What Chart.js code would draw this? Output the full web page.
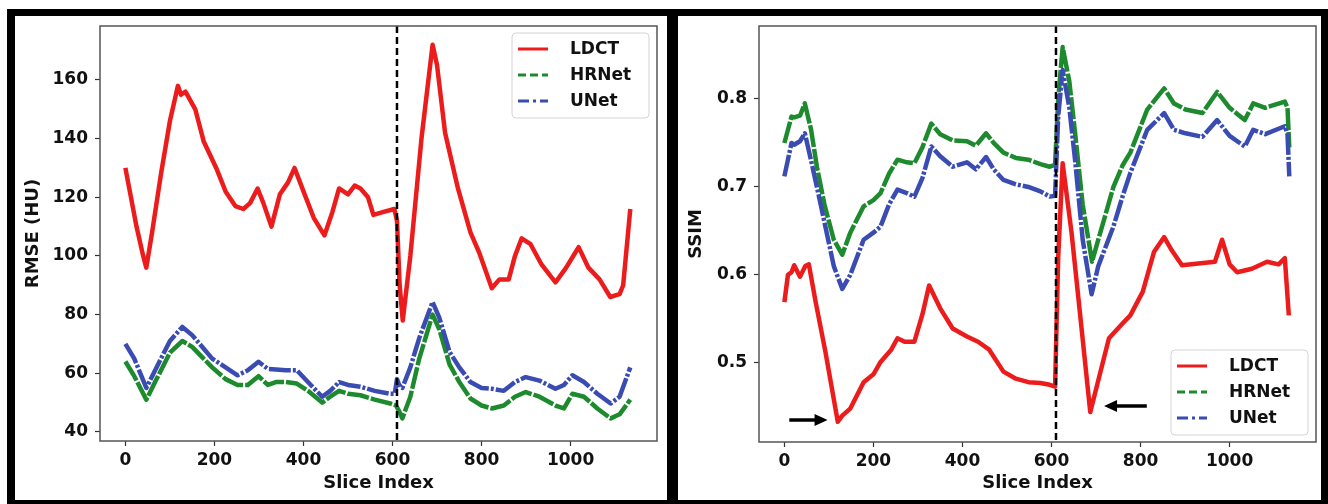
<!DOCTYPE html>
<html>
<head>
<meta charset="utf-8">
<script src="https://cdn.jsdelivr.net/npm/chart.js@4.4.0/dist/chart.umd.min.js"></script>
<style>
  body { margin: 0; background: #fff; width: 1328px; height: 504px; overflow: hidden; position: relative; }
  #frame { position: absolute; left: 7px; top: 9px; width: 1321px; height: 495px; background: #000; }
  .panel { position: absolute; top: 16px; height: 484px; background: #fff; }
  #leftPanel { left: 15px; width: 652px; }
  #rightPanel { left: 678px; width: 643px; }
</style>
</head>
<body>
<div id="frame"></div>
<div class="panel" id="leftPanel"><canvas id="rmseChart" width="652" height="484"></canvas></div>
<div class="panel" id="rightPanel"><canvas id="ssimChart" width="643" height="484"></canvas></div>
<script>
const seriesNames = ["LDCT", "HRNet", "UNet"];
const seriesColors = ["#ec1c1c", "#1e8a2e", "#3a4cb2"];
const xTicks = [0, 200, 400, 600, 800, 1000];
const rmseTicks = [40, 60, 80, 100, 120, 140, 160];
const ssimTicks = [0.5, 0.6, 0.7, 0.8];
const splitSlice = 610;

// RMSE (left panel)
const rmseLdctX = [0, 10, 25, 40, 47, 60, 80, 100, 118, 125, 135, 157, 176, 204, 225, 247, 265, 280, 297, 310, 328, 347, 365, 380, 400, 423, 447, 465, 480, 500, 515, 528, 545, 557, 580, 604, 610, 616, 623, 640, 665, 690, 700, 718, 747, 775, 795, 823, 840, 861, 875, 890, 910, 935, 966, 990, 1010, 1018, 1040, 1065, 1089, 1110, 1118, 1134];
const rmseLdctY = [130, 122, 110, 100, 96, 108, 128, 146, 158, 155, 156, 150, 139, 130, 122, 117, 116, 118, 123, 118, 110, 121, 125, 130, 122, 113, 107, 115, 123, 121, 124, 123, 120, 114, 115, 116, 112, 90, 78, 100, 140, 172, 165, 142, 123, 108, 101, 89, 92, 92, 100, 106, 104, 97, 91, 96, 101, 103, 96, 92, 86, 87, 90, 116];
const rmseHrnetX = [0, 20, 47, 70, 100, 128, 150, 195, 225, 252, 275, 299, 320, 338, 360, 385, 410, 442, 460, 480, 500, 528, 560, 595, 608, 615, 622, 640, 660, 690, 705, 728, 750, 775, 800, 823, 850, 875, 899, 930, 966, 985, 1004, 1030, 1060, 1090, 1110, 1134];
const rmseHrnetY = [64, 59, 51, 58, 67, 71, 69, 62, 58, 56, 56, 59, 56, 57, 57, 56.5, 54, 50, 52, 54, 53, 52.5, 51, 49.7, 49, 47, 44.6, 52, 65, 80, 75, 63, 57, 51.4, 49, 48, 49, 52, 53.6, 52, 49, 48, 53, 52, 48, 44.6, 46, 51];
const rmseUnetX = [0, 20, 47, 70, 100, 128, 150, 195, 225, 252, 275, 299, 320, 338, 360, 385, 410, 442, 460, 480, 500, 528, 560, 595, 605, 610, 615, 622, 640, 660, 690, 705, 728, 750, 775, 800, 823, 850, 875, 899, 930, 966, 985, 1004, 1030, 1060, 1090, 1110, 1134];
const rmseUnetY = [70, 65, 55, 62, 71, 75.8, 73, 65, 62, 59.3, 61, 63.9, 61.5, 61.3, 61, 61, 57, 52, 54, 57, 56, 55.4, 54, 53, 53, 58, 56, 55, 62, 72, 84.3, 79, 67.3, 62, 57, 55, 54.7, 54, 57, 58.7, 57.5, 54.7, 56, 59.3, 57, 53, 49.7, 52, 62];

// SSIM (right panel)
const ssimLdctX = [0, 8, 16, 22, 35, 47, 55, 70, 92, 120, 130, 148, 178, 200, 216, 240, 254, 270, 292, 310, 325, 350, 378, 410, 435, 460, 492, 520, 548, 575, 596, 608, 615, 625, 645, 665, 687, 700, 729, 760, 777, 805, 830, 853, 870, 893, 930, 967, 983, 1000, 1017, 1050, 1084, 1110, 1124, 1133];
const ssimLdctY = [0.569, 0.600, 0.603, 0.611, 0.598, 0.610, 0.612, 0.570, 0.513, 0.433, 0.440, 0.448, 0.478, 0.487, 0.501, 0.515, 0.528, 0.524, 0.524, 0.555, 0.588, 0.562, 0.539, 0.530, 0.524, 0.515, 0.490, 0.482, 0.478, 0.477, 0.475, 0.473, 0.620, 0.727, 0.648, 0.551, 0.444, 0.470, 0.528, 0.545, 0.554, 0.581, 0.626, 0.643, 0.628, 0.611, 0.613, 0.615, 0.640, 0.612, 0.603, 0.607, 0.615, 0.612, 0.619, 0.554];
const ssimHrnetX = [0, 16, 22, 35, 46, 60, 73, 90, 111, 130, 148, 178, 200, 216, 235, 254, 275, 292, 310, 330, 350, 378, 410, 430, 453, 470, 492, 520, 548, 575, 596, 608, 615, 625, 640, 653, 670, 691, 705, 739, 760, 777, 815, 853, 875, 901, 939, 972, 1000, 1034, 1053, 1080, 1124, 1130, 1134];
const ssimHrnetY = [0.750, 0.780, 0.779, 0.781, 0.795, 0.765, 0.723, 0.680, 0.640, 0.623, 0.648, 0.678, 0.685, 0.693, 0.715, 0.731, 0.728, 0.727, 0.745, 0.772, 0.760, 0.753, 0.752, 0.747, 0.761, 0.750, 0.739, 0.733, 0.731, 0.726, 0.723, 0.725, 0.800, 0.859, 0.820, 0.761, 0.680, 0.615, 0.640, 0.700, 0.725, 0.739, 0.788, 0.812, 0.795, 0.788, 0.784, 0.808, 0.790, 0.776, 0.795, 0.790, 0.797, 0.790, 0.745];
const ssimUnetX = [0, 16, 22, 35, 46, 60, 73, 90, 111, 130, 148, 178, 200, 216, 235, 254, 275, 292, 310, 330, 350, 378, 410, 430, 453, 470, 492, 520, 548, 575, 596, 608, 615, 625, 640, 653, 670, 690, 705, 739, 760, 777, 815, 853, 875, 901, 939, 972, 1000, 1034, 1053, 1080, 1124, 1130, 1134];
const ssimUnetY = [0.712, 0.750, 0.748, 0.752, 0.761, 0.730, 0.700, 0.660, 0.610, 0.584, 0.600, 0.640, 0.648, 0.655, 0.680, 0.697, 0.693, 0.689, 0.710, 0.746, 0.735, 0.723, 0.728, 0.720, 0.734, 0.720, 0.708, 0.703, 0.700, 0.695, 0.689, 0.690, 0.780, 0.833, 0.790, 0.730, 0.640, 0.578, 0.610, 0.655, 0.690, 0.716, 0.765, 0.784, 0.765, 0.761, 0.757, 0.776, 0.758, 0.746, 0.765, 0.760, 0.769, 0.760, 0.712];

// arrows on the SSIM panel (slice, ssim)
const arrowFrom = [[11, 0.435], [814, 0.451]];
const arrowTo = [[97, 0.435], [718, 0.451]];

const lineDashes = [[], [22, 2], [22, 2, 3, 2]];
const legendDashes = [[], [8, 4], [11, 4, 3, 4]];
const boldFont = size => ({ family: "DejaVu Sans", weight: "bold", size: size });

function toPoints(xs, ys) {
  return xs.map((x, i) => ({ x: x, y: ys[i] }));
}

function makeDatasets(seriesList) {
  return seriesList.map((pts, i) => ({
    label: seriesNames[i],
    data: pts,
    borderColor: seriesColors[i],
    borderWidth: 4.5,
    borderDash: lineDashes[i],
    borderJoinStyle: "round",
    pointRadius: 0,
    tension: 0,
    order: 3 - i
  }));
}

// dashed split line, arrows, and plot frame
const markers = {
  id: "markers",
  afterDatasetsDraw(chart, args, opts) {
    const { ctx, chartArea: a, scales } = chart;
    const xs = scales.x.getPixelForValue(splitSlice);
    ctx.save();
    ctx.strokeStyle = "#000";
    ctx.lineWidth = 2.5;
    ctx.setLineDash([7, 4]);
    ctx.beginPath();
    ctx.moveTo(xs, a.top);
    ctx.lineTo(xs, a.bottom);
    ctx.stroke();
    ctx.setLineDash([]);

    if (opts.arrows) {
      arrowFrom.forEach((p, i) => {
        const x0 = scales.x.getPixelForValue(p[0]);
        const y0 = scales.y.getPixelForValue(p[1]);
        const x1 = scales.x.getPixelForValue(arrowTo[i][0]);
        const dir = x1 > x0 ? 1 : -1;
        ctx.strokeStyle = "#000";
        ctx.fillStyle = "#000";
        ctx.lineWidth = 3.5;
        ctx.beginPath();
        ctx.moveTo(x0, y0);
        ctx.lineTo(x1 - dir * 10, y0);
        ctx.stroke();
        ctx.beginPath();
        ctx.moveTo(x1, y0);
        ctx.lineTo(x1 - dir * 13, y0 - 6);
        ctx.lineTo(x1 - dir * 13, y0 + 6);
        ctx.closePath();
        ctx.fill();
      });
    }

    ctx.strokeStyle = "#555";
    ctx.lineWidth = 1.5;
    ctx.strokeRect(a.left, a.top, a.right - a.left, a.bottom - a.top);
    ctx.restore();
  }
};

// legend box drawn inside the plot area
const innerLegend = {
  id: "innerLegend",
  afterDraw(chart, args, opts) {
    const { ctx, chartArea: a } = chart;
    const w = 137, h = 85;
    const left = a.right - 8 - w;
    const top = opts.corner === "top" ? a.top + 7 : a.bottom - 7 - h;
    ctx.save();
    ctx.fillStyle = "rgba(255,255,255,0.85)";
    ctx.strokeStyle = "#d4d4d4";
    ctx.lineWidth = 1;
    ctx.beginPath();
    ctx.roundRect(left, top, w, h, 4);
    ctx.fill();
    ctx.stroke();
    chart.data.datasets.forEach((ds, i) => {
      const y = top + 16 + i * 26;
      ctx.strokeStyle = ds.borderColor;
      ctx.lineWidth = 3;
      ctx.setLineDash(legendDashes[i]);
      ctx.beginPath();
      ctx.moveTo(left + 6, y);
      ctx.lineTo(left + 36, y);
      ctx.stroke();
      ctx.setLineDash([]);
      ctx.fillStyle = "#111";
      ctx.font = 'bold 17px "DejaVu Sans"';
      ctx.textBaseline = "middle";
      ctx.fillText(ds.label, left + 58, y + 1);
    });
    ctx.restore();
  }
};

function makeChart(id, datasets, yOpts) {
  return new Chart(document.getElementById(id), {
    type: "line",
    data: { datasets: datasets },
    plugins: [markers, innerLegend],
    options: {
      responsive: false,
      animation: false,
      events: [],
      layout: { padding: yOpts.padding },
      plugins: {
        legend: { display: false },
        tooltip: { enabled: false },
        markers: { arrows: yOpts.arrows },
        innerLegend: { corner: yOpts.legendCorner }
      },
      scales: {
        x: {
          type: "linear",
          min: -57,
          max: 1194,
          afterBuildTicks: s => { s.ticks = xTicks.map(v => ({ value: v })); },
          afterFit: s => { s.height = yOpts.xHeight; s.paddingLeft = 0; s.paddingRight = 0; },
          border: { display: false },
          grid: { drawOnChartArea: false, drawTicks: true, tickLength: 5, tickColor: "#333", tickWidth: 1.2 },
          ticks: { color: "#111", font: boldFont(17), padding: 4, maxRotation: 0, callback: v => String(v) },
          title: { display: true, text: "Slice Index", color: "#111", font: boldFont(18), padding: { top: 0, bottom: 6 } }
        },
        y: {
          min: yOpts.min,
          max: yOpts.max,
          afterBuildTicks: s => { s.ticks = yOpts.ticks.map(v => ({ value: v })); },
          afterFit: s => { s.width = yOpts.yWidth; s.paddingTop = 0; s.paddingBottom = 0; },
          border: { display: false },
          grid: { drawOnChartArea: false, drawTicks: true, tickLength: 5, tickColor: "#333", tickWidth: 1.2 },
          ticks: { color: "#111", font: boldFont(17), padding: 7, callback: yOpts.format },
          title: { display: true, text: yOpts.title, color: "#111", font: boldFont(18), padding: { top: 8, bottom: 0 } }
        }
      }
    }
  });
}

makeChart("rmseChart", makeDatasets([
  toPoints(rmseLdctX, rmseLdctY),
  toPoints(rmseHrnetX, rmseHrnetY),
  toPoints(rmseUnetX, rmseUnetY)
]), {
  min: 36.9, max: 178.4, ticks: rmseTicks, title: "RMSE (HU)",
  format: v => String(v), padding: { left: 0, top: 10, right: 10, bottom: 0 },
  yWidth: 85, xHeight: 59, legendCorner: "top", arrows: false
});

makeChart("ssimChart", makeDatasets([
  toPoints(ssimLdctX, ssimLdctY),
  toPoints(ssimHrnetX, ssimHrnetY),
  toPoints(ssimUnetX, ssimUnetY)
]), {
  min: 0.410, max: 0.883, ticks: ssimTicks, title: "SSIM",
  format: v => v.toFixed(1), padding: { left: 0, top: 10, right: 5, bottom: 0 },
  yWidth: 81, xHeight: 58, legendCorner: "bottom", arrows: true
});
</script>
</body>
</html>
